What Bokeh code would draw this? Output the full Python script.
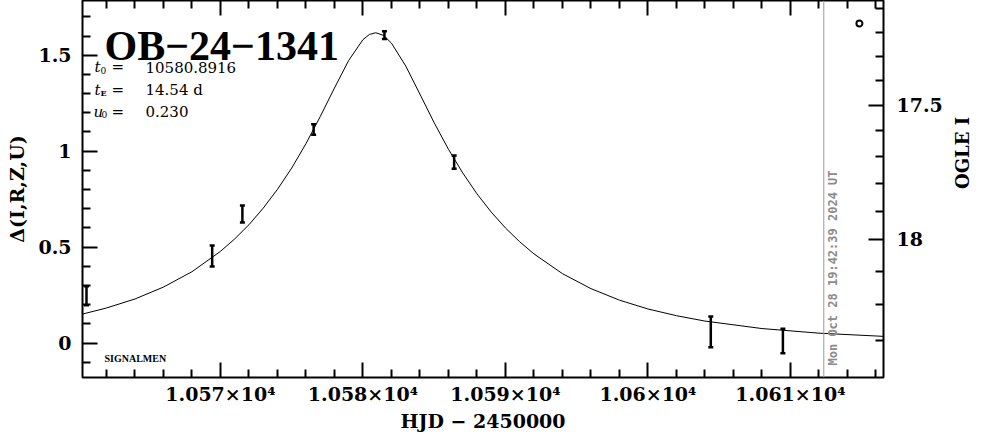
from bokeh.plotting import figure
from bokeh.models import (LinearAxis, FixedTicker, Label, Span, Whisker,
                          ColumnDataSource, Range1d, TeeHead)
from bokeh.embed import file_html
from bokeh.resources import INLINE

# ---------------- data ----------------
# photometry points (HJD-2450000, Delta mag, error)
obs_hjd = [10560.6, 10569.42, 10571.54, 10576.54, 10581.51, 10586.40, 10604.41, 10609.47]
obs_delta = [0.247, 0.454, 0.673, 1.113, 1.605, 0.943, 0.059, 0.011]
obs_err = [0.050, 0.055, 0.044, 0.027, 0.020, 0.035, 0.080, 0.064]

# model light curve
curve_hjd = [10560.3, 10562, 10564, 10566, 10568, 10570, 10571, 10572, 10573, 10574,
             10575, 10576, 10577, 10578, 10579, 10580, 10580.45, 10580.9, 10581.45,
             10582, 10583, 10584, 10585, 10586, 10587, 10588, 10589, 10590, 10591,
             10592, 10594, 10596, 10598, 10600, 10602, 10604, 10608, 10612, 10616.6]
curve_delta = [0.151, 0.183, 0.230, 0.292, 0.372, 0.478, 0.543, 0.617, 0.703, 0.801,
               0.912, 1.039, 1.180, 1.329, 1.473, 1.581, 1.608, 1.617, 1.603,
               1.563, 1.444, 1.297, 1.148, 1.010, 0.887, 0.778, 0.683, 0.600, 0.528,
               0.465, 0.362, 0.284, 0.224, 0.178, 0.143, 0.115, 0.076, 0.052, 0.035]

# OGLE point in the top-right corner
ogle_hjd = [10614.84]
ogle_delta = [1.665]

# current-time marker
now_hjd = 10612.34
now_text = "Mon Oct 28 19:42:39 2024 UT"

# axes ticks and labels
x_major = [10570, 10580, 10590, 10600, 10610]
x_labels = ["1.057×10⁴", "1.058×10⁴", "1.059×10⁴", "1.06×10⁴", "1.061×10⁴"]
x_minor = [10562, 10564, 10566, 10568, 10572, 10574, 10576, 10578, 10582, 10584,
           10586, 10588, 10592, 10594, 10596, 10598, 10602, 10604, 10606, 10608,
           10612, 10614, 10616]
y_major = [0, 0.5, 1, 1.5]
y_labels = ["0", "0.5", "1", "1.5"]
y_minor = [-0.1, 0.1, 0.2, 0.3, 0.4, 0.6, 0.7, 0.8, 0.9, 1.1, 1.2, 1.3, 1.4, 1.6, 1.7]
# right axis: OGLE I magnitude at Delta positions
mag_major_pos = [1.238, 0.540]
mag_major_lab = ["17.5", "18"]
mag_minor_pos = [1.743, 1.618, 1.493, 1.368, 1.108, 0.972, 0.832, 0.686, 0.373, 0.202, 0.014]

x_title = "HJD − 2450000"
y_title = "Δ(I,R,Z,U)"
y2_title = "OGLE I"
title = "OB−24−1341"
t0_text = "10580.8916"
tE_text = "14.54 d"
u0_text = "0.230"

# ---------------- layout ----------------
W, H = 986, 434
FL, FR, FT, FB = 82, 883, 0, 377      # frame in page pixels
X0, X1 = 10560.32, 10616.53
Y0, Y1 = -0.179, 1.785


def dx(px):
    return X0 + (px - FL) * (X1 - X0) / (FR - FL)


def dy(py):
    return Y1 - (py - FT) * (Y1 - Y0) / (FB - FT)


p = figure(width=W, height=H, output_backend="svg", toolbar_location=None,
           x_range=Range1d(X0, X1), y_range=Range1d(Y0, Y1),
           min_border_left=FL, min_border_right=W - FR,
           min_border_top=FT, min_border_bottom=H - FB)
p.xgrid.visible = False
p.ygrid.visible = False
p.outline_line_color = "black"
p.outline_line_width = 2
p.background_fill_color = "white"
p.border_fill_color = "white"

SERIF = "DejaVu Serif"


def style_axis(ax, ticks, minor, labels):
    ax.ticker = FixedTicker(ticks=ticks, minor_ticks=minor)
    if labels is not None:
        ax.major_label_overrides = {t: l for t, l in zip(ticks, labels)}
    ax.axis_line_color = None
    ax.major_tick_in = 15
    ax.major_tick_out = 0
    ax.minor_tick_in = 8
    ax.minor_tick_out = 0
    ax.major_tick_line_width = 2
    ax.minor_tick_line_width = 2
    ax.major_tick_line_color = "black"
    ax.minor_tick_line_color = "black"
    ax.major_label_text_font = SERIF
    ax.major_label_text_font_style = "bold"
    ax.major_label_text_font_size = "19px"
    ax.major_label_text_color = "black"
    ax.axis_label_text_font = SERIF
    ax.axis_label_text_font_style = "bold"
    ax.axis_label_text_font_size = "19px"
    ax.axis_label_text_color = "black"


xa = p.xaxis[0]
style_axis(xa, x_major, x_minor, x_labels)
xa.major_label_standoff = 5
xa.axis_label = x_title
xa.axis_label_standoff = 2

ya = p.yaxis[0]
style_axis(ya, y_major, y_minor, y_labels)
ya.major_label_standoff = 11
ya.axis_label = y_title
ya.axis_label_standoff = 7

top = LinearAxis()
style_axis(top, x_major, x_minor, ["" for _ in x_major])
top.major_label_text_font_size = "0px"
top.major_label_standoff = 0
p.add_layout(top, "above")

right = LinearAxis()
style_axis(right, mag_major_pos, mag_minor_pos, mag_major_lab)
right.major_label_standoff = 13
right.axis_label = y2_title
right.axis_label_standoff = 17
right.axis_label_text_font_size = "18px"
right.axis_label_orientation = 1.5708
p.add_layout(right, "right")

# model curve
p.line(curve_hjd, curve_delta, line_color="black", line_width=1)

# data with error bars
src = ColumnDataSource(dict(
    x=obs_hjd, y=obs_delta,
    lo=[v - e for v, e in zip(obs_delta, obs_err)],
    hi=[v + e for v, e in zip(obs_delta, obs_err)]))
wh = Whisker(base="x", lower="lo", upper="hi", source=src, dimension="height",
             line_color="black", line_width=2.5,
             upper_head=TeeHead(size=5, line_width=2.5, line_color="black"),
             lower_head=TeeHead(size=5, line_width=2.5, line_color="black"))
p.add_layout(wh)

p.scatter(ogle_hjd, ogle_delta, marker="circle", size=6, fill_color="white",
          line_color="black", line_width=2)

# current time line
p.add_layout(Span(location=now_hjd, dimension="height", line_color="#999999", line_width=1))
p.add_layout(Label(x=now_hjd, y=dy(365), x_offset=2, text=now_text, angle=1.5708,
                   text_font="DejaVu Sans Mono", text_font_style="bold",
                   text_font_size="12px", text_color="#8c8c8c",
                   text_align="left", text_baseline="top"))


def lab(px, py, text, size, font=SERIF, style="normal", align="left", angle=0.0,
        baseline="alphabetic"):
    p.add_layout(Label(x=dx(px), y=dy(py), text=text, text_font=font,
                       text_font_style=style, text_font_size=size,
                       text_color="black", text_align=align, angle=angle,
                       text_baseline=baseline))


# title and parameters
lab(104, 45, title, "42px", font="Liberation Serif", style="bold")
lab(94, 66.7, "t", "15px", style="italic")
lab(100, 70, "0", "9px")
lab(94, 89, "t", "15px", style="italic")
lab(100, 92, "E", "8px", style="bold")
lab(93, 111, "u", "15px", style="italic")
lab(101, 114, "0", "9px")
for yy, txt in [(66.7, t0_text), (89, tE_text), (111, u0_text)]:
    lab(111, yy, "=", "15px")
    lab(145, yy, txt, "15px")

lab(104, 358.3, "SIGNALMEN", "10px", font="Liberation Serif", style="bold")

open("out.html", "w").write(file_html(p, INLINE))
